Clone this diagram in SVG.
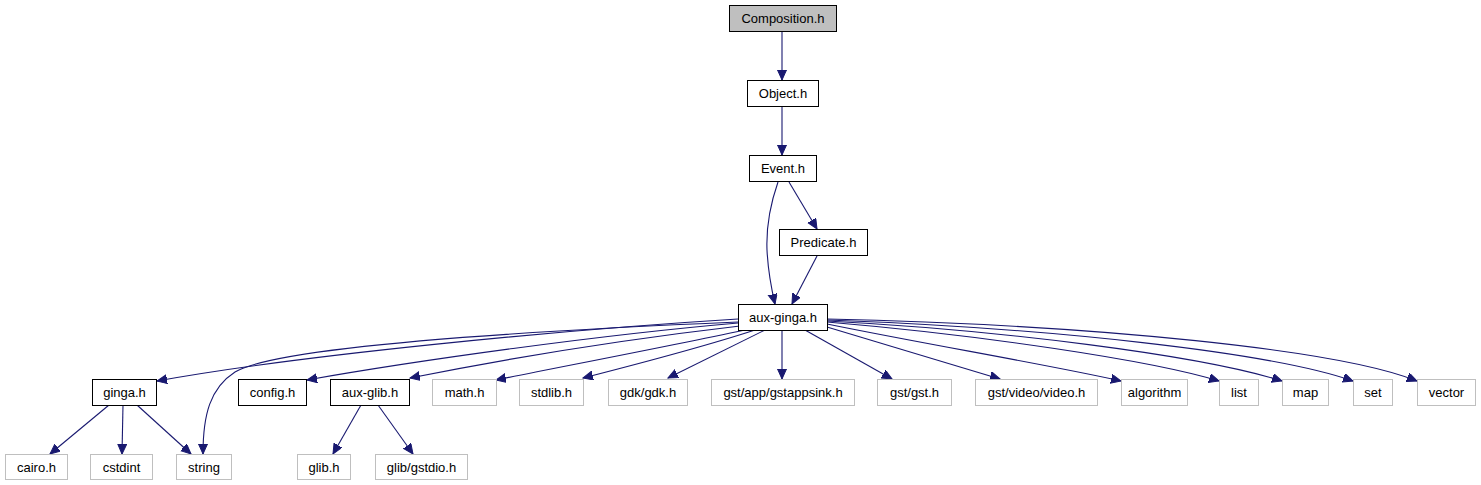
<svg xmlns="http://www.w3.org/2000/svg" width="1481" height="485" viewBox="0 0 1481 485">
<style>
.n rect{fill:#ffffff;stroke:#000000;stroke-width:1}
.x rect{fill:#ffffff;stroke:#bfbfbf;stroke-width:1}
.r rect{fill:#bfbfbf;stroke:#000000;stroke-width:1}
text{font-family:"Liberation Sans",Arial,sans-serif;font-size:13px;fill:#000000;text-anchor:middle}
.e path{fill:none;stroke:#191970;stroke-width:1.1;marker-end:url(#ah)}
</style>
<defs>
<marker id="ah" markerUnits="userSpaceOnUse" markerWidth="12" markerHeight="10" refX="10" refY="4.5" orient="auto">
<path d="M0,0 L10,4.5 L0,9 z" fill="#191970" stroke="#191970" stroke-width="1"/>
</marker>
</defs>
<rect width="1481" height="485" fill="#ffffff"/>
<g id="edges" class="e">
<path d="M782,32 L782,80"/>
<path d="M782,106 L782,155"/>
<path d="M778,182 C770,205 766,225 767,250 C768,270 771,287 775,304"/>
<path d="M789,182 L817,229"/>
<path d="M817,256 L792,304"/>
<path d="M738,319 C560,330 300,355 157,381"/>
<path d="M738,322 C550,330 280,345 235,372 C210,388 203,415 203,454"/>
<path d="M738,323 C600,335 420,360 307,380"/>
<path d="M740,326 C620,340 500,360 410,378"/>
<path d="M745,330 C660,348 560,367 496,380"/>
<path d="M755,330 C700,348 630,366 583,378"/>
<path d="M765,330 L668,378"/>
<path d="M782,330 L782,379"/>
<path d="M805,330 L892,379"/>
<path d="M827,327 L1000,379"/>
<path d="M827,324 C930,345 1050,365 1121,381"/>
<path d="M827,322 C980,335 1150,360 1219,381"/>
<path d="M827,321 C1000,330 1200,355 1282,381"/>
<path d="M827,320 C1050,328 1270,352 1353,381"/>
<path d="M827,319 C1100,325 1340,350 1417,381"/>
<path d="M109,405 L50,454"/>
<path d="M123,405 L122,454"/>
<path d="M137,405 L191,454"/>
<path d="M361,405 L333,454"/>
<path d="M378,405 L413,454"/>
</g>
<g id="n_composition" class="r"><rect x="729.5" y="5.5" width="107" height="26"/><text x="783" y="23">Composition.h</text></g>
<g id="n_object" class="n"><rect x="747.5" y="80.5" width="71" height="26"/><text x="783" y="98">Object.h</text></g>
<g id="n_event" class="n"><rect x="749.5" y="155.5" width="67" height="26"/><text x="783" y="173">Event.h</text></g>
<g id="n_predicate" class="n"><rect x="779.5" y="229.5" width="88" height="26"/><text x="823.5" y="247">Predicate.h</text></g>
<g id="n_auxginga" class="n"><rect x="738.5" y="304.5" width="89" height="26"/><text x="783" y="322">aux-ginga.h</text></g>
<g id="n_ginga" class="n"><rect x="92.5" y="379.5" width="64" height="26"/><text x="124.5" y="397">ginga.h</text></g>
<g id="n_config" class="n"><rect x="238.5" y="379.5" width="68" height="26"/><text x="272.5" y="397">config.h</text></g>
<g id="n_auxglib" class="n"><rect x="330.5" y="379.5" width="79" height="26"/><text x="370" y="397">aux-glib.h</text></g>
<g id="n_math" class="x"><rect x="432.5" y="379.5" width="64" height="26"/><text x="464.5" y="397">math.h</text></g>
<g id="n_stdlib" class="x"><rect x="519.5" y="379.5" width="64" height="26"/><text x="551.5" y="397">stdlib.h</text></g>
<g id="n_gdk" class="x"><rect x="608.5" y="379.5" width="79" height="26"/><text x="648" y="397">gdk/gdk.h</text></g>
<g id="n_gstappsink" class="x"><rect x="711.5" y="379.5" width="143" height="26"/><text x="783" y="397">gst/app/gstappsink.h</text></g>
<g id="n_gst" class="x"><rect x="877.5" y="379.5" width="74" height="26"/><text x="914.5" y="397">gst/gst.h</text></g>
<g id="n_gstvideo" class="x"><rect x="975.5" y="379.5" width="122" height="26"/><text x="1036.5" y="397">gst/video/video.h</text></g>
<g id="n_algorithm" class="x"><rect x="1121.5" y="379.5" width="66" height="26"/><text x="1154.5" y="397">algorithm</text></g>
<g id="n_list" class="x"><rect x="1219.5" y="379.5" width="39" height="26"/><text x="1239" y="397">list</text></g>
<g id="n_map" class="x"><rect x="1282.5" y="379.5" width="46" height="26"/><text x="1305.5" y="397">map</text></g>
<g id="n_set" class="x"><rect x="1353.5" y="379.5" width="39" height="26"/><text x="1373" y="397">set</text></g>
<g id="n_vector" class="x"><rect x="1417.5" y="379.5" width="58" height="26"/><text x="1446.5" y="397">vector</text></g>
<g id="n_cairo" class="x"><rect x="5.5" y="454.5" width="62" height="25"/><text x="36.5" y="471.5">cairo.h</text></g>
<g id="n_cstdint" class="x"><rect x="90.5" y="454.5" width="62" height="25"/><text x="121.5" y="471.5">cstdint</text></g>
<g id="n_string" class="x"><rect x="176.5" y="454.5" width="55" height="25"/><text x="204" y="471.5">string</text></g>
<g id="n_glib" class="x"><rect x="297.5" y="454.5" width="53" height="25"/><text x="324" y="471.5">glib.h</text></g>
<g id="n_gstdio" class="x"><rect x="375.5" y="454.5" width="92" height="25"/><text x="421.5" y="471.5">glib/gstdio.h</text></g>
</svg>
